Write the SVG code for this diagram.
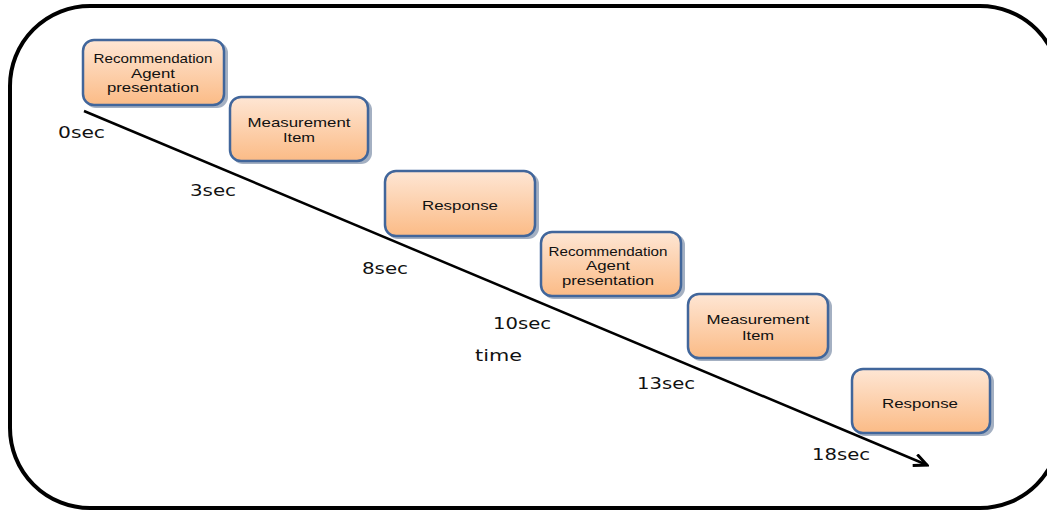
<svg xmlns="http://www.w3.org/2000/svg" width="1047" height="510" viewBox="0 0 1047 510">
<defs>
<linearGradient id="fillG" x1="0" y1="0" x2="0" y2="1">
<stop offset="0" stop-color="#fee6d4"/>
<stop offset="1" stop-color="#fbbb86"/>
</linearGradient>
<marker id="arrow" markerWidth="16" markerHeight="14" refX="14" refY="7" orient="auto" markerUnits="userSpaceOnUse">
<path d="M1,1 L14,7 L1,13" fill="none" stroke="#000" stroke-width="3"/>
</marker>
<style>
.box{fill:url(#fillG);stroke:#41669b;stroke-width:2.5}
.shadow{fill:#5a6f90;opacity:0.55}
.bt{font-family:"Liberation Sans",Arial,sans-serif;font-size:13.5px;fill:#111;text-anchor:middle}
.tl{font-family:"DejaVu Sans",Verdana,sans-serif;font-size:16px;fill:#111}
</style>
</defs>
<rect width="1047" height="510" fill="#fff"/>
<rect id="frame" x="10" y="6" width="1050" height="502" rx="80" ry="80" fill="none" stroke="#000" stroke-width="4"/>

<g id="connectors">
<line x1="84" y1="111" x2="927" y2="465" stroke="#000" stroke-width="2.5" marker-end="url(#arrow)"/>
</g>

<g id="node1">
<rect class="shadow" x="85" y="42" width="143" height="66" rx="11"/>
<rect class="box" x="83" y="40" width="141" height="65" rx="11"/>
<text class="bt" x="153" y="63" textLength="119" lengthAdjust="spacingAndGlyphs">Recommendation</text>
<text class="bt" x="153" y="78" textLength="44" lengthAdjust="spacingAndGlyphs">Agent</text>
<text class="bt" x="153" y="92" textLength="92" lengthAdjust="spacingAndGlyphs">presentation</text>
</g>

<g id="node2">
<rect class="shadow" x="232" y="99" width="140" height="65" rx="11"/>
<rect class="box" x="230" y="97" width="138" height="64" rx="11"/>
<text class="bt" x="299" y="127" textLength="103" lengthAdjust="spacingAndGlyphs">Measurement</text>
<text class="bt" x="299" y="142" textLength="32" lengthAdjust="spacingAndGlyphs">Item</text>
</g>

<g id="node3">
<rect class="shadow" x="387" y="173" width="152" height="66" rx="11"/>
<rect class="box" x="385" y="171" width="150" height="65" rx="11"/>
<text class="bt" x="460" y="210" textLength="76" lengthAdjust="spacingAndGlyphs">Response</text>
</g>

<g id="node4">
<rect class="shadow" x="543" y="234" width="142" height="65" rx="11"/>
<rect class="box" x="541" y="232" width="140" height="64" rx="11"/>
<text class="bt" x="608" y="256" textLength="119" lengthAdjust="spacingAndGlyphs">Recommendation</text>
<text class="bt" x="608" y="270" textLength="44" lengthAdjust="spacingAndGlyphs">Agent</text>
<text class="bt" x="608" y="285" textLength="92" lengthAdjust="spacingAndGlyphs">presentation</text>
</g>

<g id="node5">
<rect class="shadow" x="690" y="296" width="142" height="65" rx="11"/>
<rect class="box" x="688" y="294" width="140" height="64" rx="11"/>
<text class="bt" x="758" y="324" textLength="103" lengthAdjust="spacingAndGlyphs">Measurement</text>
<text class="bt" x="758" y="340" textLength="32" lengthAdjust="spacingAndGlyphs">Item</text>
</g>

<g id="node6">
<rect class="shadow" x="854" y="371" width="140" height="65" rx="11"/>
<rect class="box" x="852" y="369" width="138" height="64" rx="11"/>
<text class="bt" x="920" y="408" textLength="76" lengthAdjust="spacingAndGlyphs">Response</text>
</g>

<g id="labels">
<text class="tl" x="58" y="138" textLength="47" lengthAdjust="spacingAndGlyphs">0sec</text>
<text class="tl" x="190" y="196" textLength="46" lengthAdjust="spacingAndGlyphs">3sec</text>
<text class="tl" x="362" y="274" textLength="46" lengthAdjust="spacingAndGlyphs">8sec</text>
<text class="tl" x="493" y="329" textLength="58" lengthAdjust="spacingAndGlyphs">10sec</text>
<text class="tl" x="475" y="361" textLength="47" lengthAdjust="spacingAndGlyphs">time</text>
<text class="tl" x="637" y="389" textLength="58" lengthAdjust="spacingAndGlyphs">13sec</text>
<text class="tl" x="812" y="460" textLength="58" lengthAdjust="spacingAndGlyphs">18sec</text>
</g>
</svg>
